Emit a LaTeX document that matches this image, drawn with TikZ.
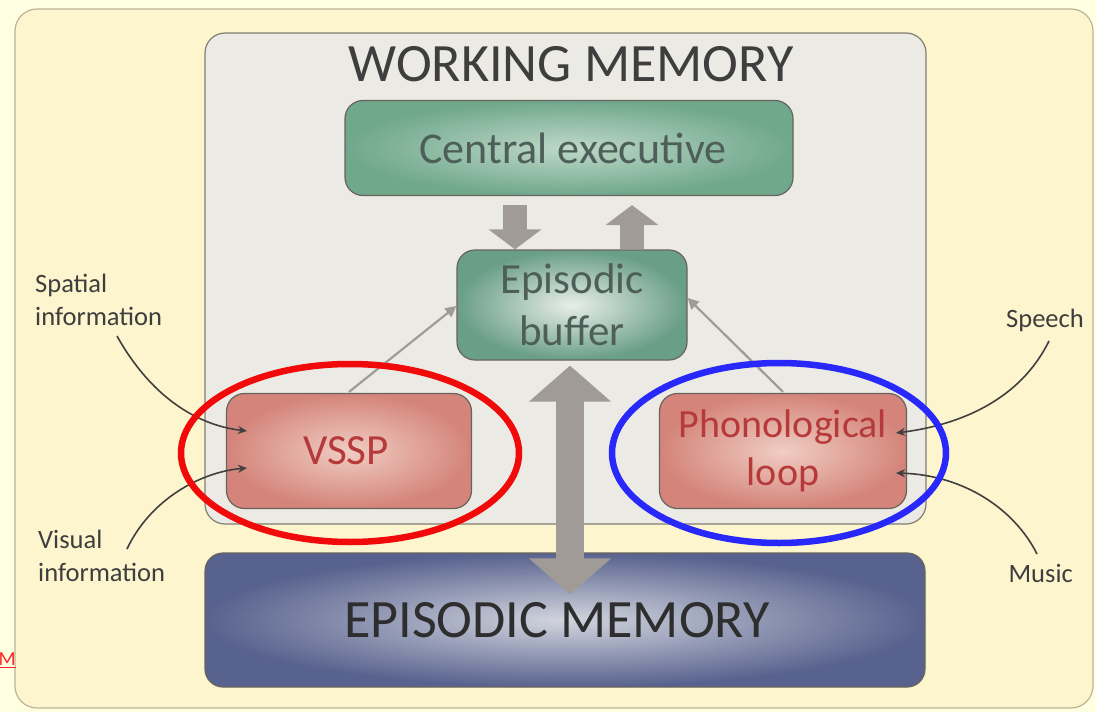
\documentclass[tikz,border=0pt]{standalone}
\usepackage{fontspec}
\setmainfont{Carlito}
\usetikzlibrary{arrows.meta}
\definecolor{pagebg}{RGB}{255,255,226}
\definecolor{panelbg}{RGB}{252,245,205}
\definecolor{panelline}{RGB}{190,180,150}
\definecolor{wmbg}{RGB}{236,234,228}
\definecolor{wmline}{RGB}{130,125,115}
\definecolor{greenout}{RGB}{112,168,140}
\definecolor{greenin}{RGB}{190,216,200}
\definecolor{ebout}{RGB}{105,158,135}
\definecolor{ebin}{RGB}{232,238,234}
\definecolor{salout}{RGB}{212,132,122}
\definecolor{salin}{RGB}{240,205,195}
\definecolor{blueout}{RGB}{88,98,142}
\definecolor{bluein}{RGB}{210,213,222}
\definecolor{arrowgray}{RGB}{160,155,150}
\definecolor{txtgray}{RGB}{62,62,62}
\definecolor{txtgreen}{RGB}{78,95,90}
\definecolor{txtred}{RGB}{182,58,58}
\definecolor{ringred}{RGB}{240,10,10}
\definecolor{ringblue}{RGB}{40,40,250}
\begin{document}
\begin{tikzpicture}[x=1pt,y=-1pt,
  boxbase/.style={rounded corners=18pt, draw=wmline!80!black, line width=1.2pt, inner sep=0pt},
  greenbox/.style={boxbase, inner color=greenin, outer color=greenout, text=txtgreen},
  ebbox/.style={boxbase, inner color=ebin, outer color=ebout, text=txtgreen},
  salbox/.style={boxbase, inner color=salin, outer color=salout, text=txtred},
  bluebox/.style={boxbase, inner color=bluein, outer color=blueout, text=black!82},
  inlabel/.style={font=\fontsize{26.5}{33}\selectfont, text=txtgray, align=left, inner sep=0pt},
  inarrow/.style={draw=black!75, line width=1.6pt, -{Stealth[length=9pt,width=8pt]}},
  thinarrow/.style={draw=arrowgray, line width=2.2pt, -{Triangle[length=11pt,width=11pt]}},
  blockarrow/.style={draw=arrowgray, line width=24pt, -{Triangle[length=20pt,width=52pt]}},
  ring/.style={line width=6.5pt}
]
\useasboundingbox (0,0) rectangle (1096,712);
\fill[pagebg] (0,0) rectangle (1096,712);
% outer panel
\path[fill=panelbg, draw=panelline, line width=1.2pt, rounded corners=22pt] (15,9) rectangle (1093,708);
% working memory panel
\path[fill=wmbg, draw=wmline, line width=1.2pt, rounded corners=20pt] (205,33) rectangle (926,524);
\node[font=\fontsize{54}{60}\selectfont, text=txtgray] (wm) at (571,64) {WORKING MEMORY};
% boxes
\node[greenbox, minimum width=448pt, minimum height=95pt, font=\fontsize{44}{48}\selectfont] (ce) at (569,148) {\hspace*{8pt}Central executive};
\node[ebbox, minimum width=230pt, minimum height=110pt, align=center, font=\fontsize{43}{52}\selectfont] (eb) at (572,305) {Episodic\\buffer};
\node[salbox, minimum width=245pt, minimum height=115pt, font=\fontsize{43}{48}\selectfont] (vssp) at (349,451) {VSSP\hspace*{6pt}};
\node[salbox, minimum width=247pt, minimum height=115pt, align=center, font=\fontsize{40}{48}\selectfont] (pl) at (783,451) {Phonological\\loop};
\node[bluebox, minimum width=720pt, minimum height=134pt, font=\fontsize{54}{60}\selectfont] (em) at (565,620) {EPISODIC MEMORY\hspace*{16pt}};
% block arrows between central executive and episodic buffer
\draw[blockarrow] (ce.south -| 515,0) ++(0,9) coordinate (d1) -- (eb.north -| 515,0);
\draw[blockarrow] (eb.north -| 632,0) -- ([yshift=-9pt]ce.south -| 632,0);
% double arrow episodic buffer <-> episodic memory
\draw[draw=arrowgray, line width=28pt, {Triangle[length=36pt,width=80pt]}-{Triangle[length=36pt,width=80pt]}] ([yshift=-5pt]eb.south -| 570,0) -- ([yshift=-42pt]em.north -| 570,0);
% thin arrows into episodic buffer
\draw[thinarrow] (vssp.north) ++(0,-1) -- (eb.west |- 0,306);
\draw[thinarrow] (pl.north) ++(0,-1) -- (eb.east |- 0,298);
% input labels
\node[inlabel, anchor=north west] (spatial) at (35,274) {Spatial\\information};
\node[inlabel, anchor=north west] (visual) at (38,530) {Visual\\information};
\node[inlabel, anchor=north east] (speech) at (1084,309) {Speech};
\node[inlabel, anchor=north east] (music) at (1073,564) {Music};
\coordinate (vs1) at (247,431);
\coordinate (vs2) at (247,468);
\coordinate (pl1) at (896,433);
\coordinate (pl2) at (896,473);
\draw[inarrow] (117,336) .. controls (150,395) and (195,425) .. (vs1);
\draw[inarrow] (127,549) .. controls (150,500) and (200,472) .. (vs2);
\draw[inarrow] (1049,341) .. controls (1020,400) and (960,425) .. (pl1);
\draw[inarrow] (1037,554) .. controls (1015,510) and (965,475) .. (pl2);
% highlight rings
\draw[ring, draw=ringred] (350,453) ellipse [x radius=169pt, y radius=89pt];
\draw[ring, draw=ringblue] (779,453) ellipse [x radius=167pt, y radius=90pt];
% link fragment
\node[text=red!85, font=\fontsize{20}{24}\selectfont, inner sep=0pt, anchor=east] (lnk) at (16,660) {\underline{M}};
\end{tikzpicture}
\end{document}
